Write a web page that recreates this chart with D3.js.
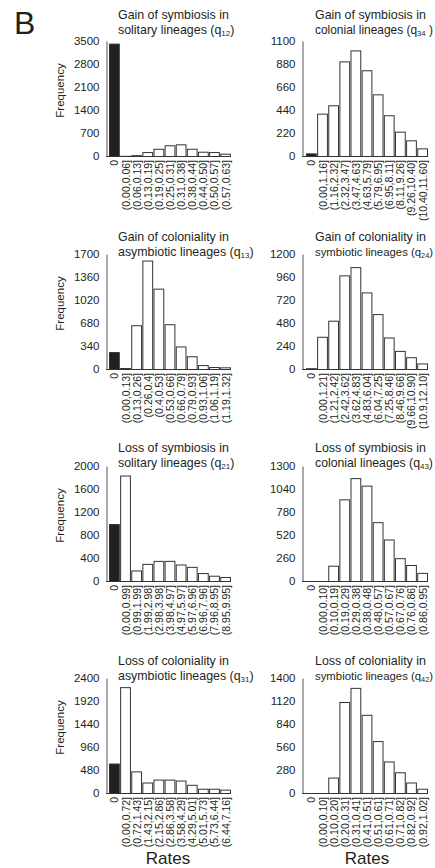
<!DOCTYPE html>
<html>
<head>
<meta charset="utf-8">
<script src="https://cdn.jsdelivr.net/npm/d3@7"></script>
<style>
  body { margin: 0; background: #fff; }
  svg { display: block; }
  .narrow { font-family: "Liberation Sans Narrow", "Liberation Sans", sans-serif; }
</style>
</head>
<body>
<svg></svg>
<script>
// bins (tick labels) and frequencies for each rate
const binsQ12 = ['0','(0.00,0.06]','(0.06,0.13]','(0.13,0.19]','(0.19,0.25]','(0.25,0.31]','(0.31,0.38]','(0.38,0.44]','(0.44,0.50]','(0.50,0.57]','(0.57,0.63]'];
const freqQ12 = [3420, 5, 25, 120, 220, 325, 355, 220, 130, 120, 70];

const binsQ34 = ['0','(0.00,1.16]','(1.16,2.32]','(2.32,3.47]','(3.47,4.63]','(4.63,5.79]','(5.79,6.95]','(6.95,8.11]','(8.11,9.26]','(9.26,10.40]','(10.40,11.60]'];
const freqQ34 = [25, 405, 485, 905, 1010, 820, 590, 390, 233, 150, 73];

const binsQ13 = ['0','(0.00,0.13]','(0.13,0.26]','(0.26,0.4]','(0.4,0.53]','(0.53,0.66]','(0.66,0.79]','(0.79,0.93]','(0.93,1.06]','(1.06,1.19]','(1.19,1.32]'];
const freqQ13 = [250, 15, 647, 1603, 1188, 662, 333, 188, 58, 29, 25];

const binsQ24 = ['0','(0.00,1.21]','(1.21,2.42]','(2.42,3.62]','(3.62,4.83]','(4.83,6.04]','(6.04,7.25]','(7.25,8.46]','(8.46,9.66]','(9.66,10.90]','(10.9,12.10]'];
const freqQ24 = [8, 336, 504, 977, 1063, 799, 573, 329, 189, 123, 58];

const binsQ21 = ['0','(0.00,0.99]','(0.99,1.99]','(1.99,2.98]','(2.98,3.98]','(3.98,4.97]','(4.97,5.97]','(5.97,6.96]','(6.96,7.96]','(7.96,8.95]','(8.95,9.95]'];
const freqQ21 = [990, 1834, 183, 298, 350, 350, 287, 246, 138, 92, 70];

const binsQ43 = ['0','(0.00,0.10]','(0.10,0.19]','(0.19,0.29]','(0.29,0.38]','(0.38,0.48]','(0.48,0.57]','(0.57,0.67]','(0.67,0.76]','(0.76,0.86]','(0.86,0.95]'];
const freqQ43 = [0, 0, 173, 923, 1163, 1078, 665, 469, 258, 181, 92];

const binsQ31 = ['0','(0.00,0.72]','(0.72,1.43]','(1.43,2.15]','(2.15,2.86]','(2.86,3.58]','(3.58,4.29]','(4.29,5.01]','(5.01,5.73]','(5.73,6.44]','(6.44,7.16]'];
const freqQ31 = [615, 2209, 451, 219, 280, 280, 260, 171, 89, 89, 70];

const binsQ42 = ['0','(0.00,0.10]','(0.10,0.20]','(0.20,0.31]','(0.31,0.41]','(0.41,0.51]','(0.51,0.61]','(0.61,0.71]','(0.71,0.82]','(0.82,0.92]','(0.92,1.02]'];
const freqQ42 = [0, 0, 188, 1108, 1280, 952, 632, 384, 252, 128, 52];

// y axis maxima (ticks are max/5 apart)
const yMax = [3500, 1100, 1700, 1200, 2000, 1300, 2400, 1400];

const titles = [
    ['Gain of symbiosis in', 'solitary lineages (q', '12', ')'],
    ['Gain of symbiosis in', 'colonial lineages (q', '34', ' )'],
    ['Gain of coloniality in', 'asymbiotic lineages (q', '13', ')'],
    ['Gain of coloniality in', 'symbiotic lineages (q', '24', ')'],
    ['Loss of symbiosis in', 'solitary lineages (q', '21', ')'],
    ['Loss of symbiosis in', 'colonial lineages (q', '43', ')'],
    ['Loss of coloniality in', 'asymbiotic lineages (q', '31', ')'],
    ['Loss of coloniality in', 'symbiotic lineages (q', '42', ')']
];

const allBins = [binsQ12, binsQ34, binsQ13, binsQ24, binsQ21, binsQ43, binsQ31, binsQ42];
const allFreqs = [freqQ12, freqQ34, freqQ13, freqQ24, freqQ21, freqQ43, freqQ31, freqQ42];

const width = 435;
const height = 868;

// layout
const axisX = [106, 302];
const barsX = [109, 306];
const barsW = 121;
const zeroY = [156, 369, 581, 793];
const plotH = 115;
const titleY = [19, 241, 452, 665];
const titleX = [118, 315];
const titleSize = 12.4;

const svg = d3.select('svg')
    .attr('width', width)
    .attr('height', height);

svg.append('text')
    .attr('x', 14)
    .attr('y', 34)
    .attr('font-family', 'Liberation Sans, sans-serif')
    .attr('font-size', 32)
    .attr('fill', '#231f20')
    .text('B');

const drawPanel = (i) => {
    const col = i % 2;
    const row = Math.floor(i / 2);
    const bins = allBins[i];
    const freqs = allFreqs[i];
    const max = yMax[i];
    const y0 = zeroY[row];

    const xScale = d3.scaleBand()
        .domain(bins)
        .range([barsX[col], barsX[col] + barsW])
        .paddingInner(0.12);

    const yScale = d3.scaleLinear()
        .domain([0, max])
        .range([y0, y0 - plotH]);

    const g = svg.append('g');

    // title, two lines, second with subscript
    const t = titles[i];
    g.append('text')
        .attr('font-family', 'Liberation Sans, sans-serif')
        .attr('font-size', titleSize)
        .attr('fill', '#231f20')
        .attr('x', titleX[col])
        .attr('y', titleY[row])
        .text(t[0]);

    const line2 = g.append('text')
        .attr('font-family', 'Liberation Sans, sans-serif')
        .attr('font-size', titleSize)
        .attr('fill', '#231f20')
        .attr('x', titleX[col])
        .attr('y', titleY[row] + 15);
    line2.append('tspan').text(t[1]);
    const sub = line2.append('tspan')
        .attr('font-size', 8)
        .attr('dy', 2)
        .text(t[2]);
    line2.append('tspan')
        .attr('dy', -2)
        .text(t[3]);

    // shrink a line that would run past the right edge
    const len = line2.node().getComputedTextLength();
    const room = width - 2 - titleX[col];
    if (len > room) {
        const k = room / len;
        line2.attr('font-size', titleSize * k);
        sub.attr('font-size', 8 * k);
    }

    // baseline
    g.append('line')
        .attr('x1', axisX[col])
        .attr('x2', xScale(bins[bins.length - 1]) + xScale.bandwidth())
        .attr('y1', y0 + 0.5)
        .attr('y2', y0 + 0.5)
        .attr('stroke', '#333')
        .attr('stroke-width', 1);

    // bars
    g.selectAll('rect')
        .data(freqs)
        .enter()
        .append('rect')
        .attr('x', (d, idx) => xScale(bins[idx]) + 0.5)
        .attr('y', (d) => yScale(d) + 0.5)
        .attr('width', xScale.bandwidth())
        .attr('height', (d) => y0 - yScale(d))
        .attr('fill', (d, idx) => idx === 0 ? '#231f20' : '#fff')
        .attr('stroke', '#333')
        .attr('stroke-width', 1);

    // y axis
    const yAxis = d3.axisLeft(yScale)
        .tickValues(d3.range(0, max + 1, max / 5))
        .tickSize(0)
        .tickPadding(7)
        .tickFormat(d3.format('d'));

    const ya = g.append('g')
        .attr('transform', `translate(${axisX[col] + 0.5}, 0)`)
        .call(yAxis);
    ya.select('.domain').attr('stroke', '#555');
    ya.selectAll('text')
        .attr('class', 'narrow')
        .attr('font-size', 11.5)
        .attr('fill', '#231f20');

    // x labels
    g.selectAll('.xlab')
        .data(bins)
        .enter()
        .append('text')
        .attr('class', 'xlab narrow')
        .attr('text-anchor', 'end')
        .attr('font-size', 10.5)
        .attr('fill', '#231f20')
        .attr('transform', (d) => `translate(${xScale(d) + xScale.bandwidth() / 2 + 4.5}, ${y0 + 4}) rotate(-90)`)
        .text((d) => d);

    if (col === 0) {
        g.append('text')
            .attr('font-family', 'Liberation Sans, sans-serif')
            .attr('font-size', 11.5)
            .attr('fill', '#231f20')
            .attr('text-anchor', 'middle')
            .attr('transform', `translate(64, ${y0 - plotH / 2 - 8}) rotate(-90)`)
            .text('Frequency');
    }

    if (row === 3) {
        g.append('text')
            .attr('class', 'narrow')
            .attr('font-size', 17)
            .attr('fill', '#231f20')
            .attr('text-anchor', 'middle')
            .attr('x', col === 0 ? 168 : 367)
            .attr('y', 864)
            .text('Rates');
    }
};

d3.range(8).forEach(drawPanel);
</script>
</body>
</html>
